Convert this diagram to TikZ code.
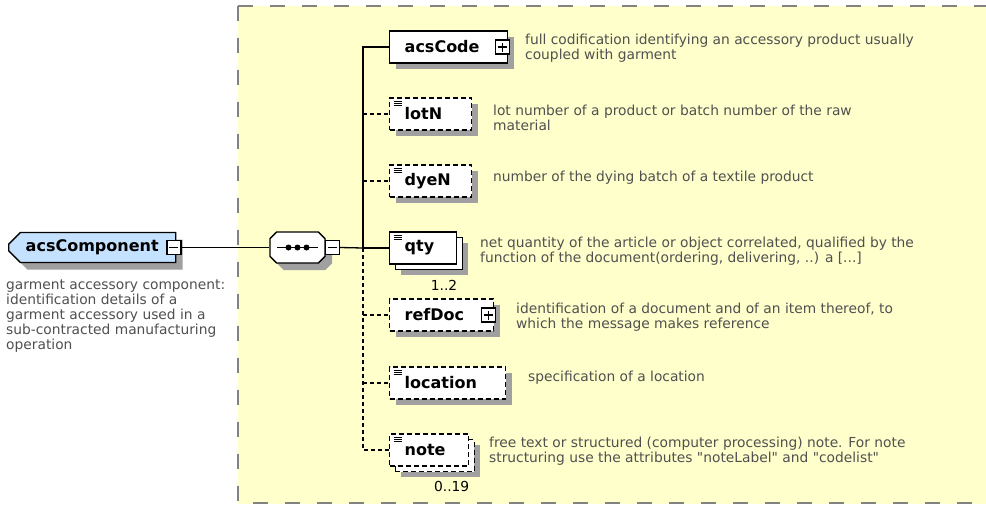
\documentclass[tikz,border=0pt]{standalone}
\usepackage{xcolor}
\usepackage{fontspec}
\setmainfont{DejaVu Sans}
\usetikzlibrary{shapes.misc,shadows,positioning,calc}

\definecolor{paneyellow}{RGB}{255,255,204}
\definecolor{rootblue}{RGB}{196,226,255}
\definecolor{shadegray}{RGB}{160,160,160}
\definecolor{textgray}{RGB}{80,80,80}
\definecolor{framegray}{RGB}{130,130,130}

% straight double quote, bypassing the TeX mapping
\newcommand{\straightdq}{\XeTeXglyph\XeTeXcharglyph"22\relax}

\begin{document}
\begin{tikzpicture}[x=1pt, y=-1pt,
    conn/.style={line width=1.3pt},
    optconn/.style={line width=1.3pt, dash pattern=on 4pt off 3pt},
    castshadow/.style={drop shadow={shadow xshift=#1, shadow yshift=-#1, fill=shadegray, opacity=1}},
    elem/.style={rectangle, draw, fill=white, line width=1.4pt, minimum height=32pt, inner xsep=15pt, inner ysep=2pt, align=left, anchor=west, font=\fontsize{16}{18}\selectfont\bfseries},
    single/.style={castshadow=6pt},
    multi/.style={castshadow=11pt, preaction={draw, fill=white, transform canvas={shift={(5.5pt,-5.5pt)}}}},
    optional/.style={dash pattern=on 5pt off 3pt},
    simple/.style={path picture={
        \foreach \k in {0,1,2}
          \draw[solid, line width=0.8pt] ([xshift=4pt, yshift={-3-2.4*\k}]path picture bounding box.north west) -- ++(8pt,0pt);}},
    pmtoggle/.style={rectangle, draw, fill=white, line width=1.2pt, minimum size=14pt, inner sep=0pt},
    pmexpand/.style={pmtoggle, path picture={
        \draw[line width=1.2pt] ([xshift=-4.5pt]path picture bounding box.center) -- ([xshift=4.5pt]path picture bounding box.center);
        \draw[line width=1.2pt] ([yshift=-4.5pt]path picture bounding box.center) -- ([yshift=4.5pt]path picture bounding box.center);}},
    pmcollapse/.style={pmtoggle, path picture={
        \draw[line width=1.2pt] ([xshift=-4.5pt]path picture bounding box.center) -- ([xshift=4.5pt]path picture bounding box.center);}},
    desc/.style={anchor=north west, inner sep=0pt, align=left, text=textgray, font=\fontsize{13.8}{15}\selectfont},
    card/.style={anchor=north east, inner sep=0pt, font=\fontsize{13.8}{15}\selectfont}
  ]
    \useasboundingbox (0,0) rectangle (986,504);
    \fill[white] (0,0) rectangle (986,504);

    % Content pane
    \fill[paneyellow] (238,6) rectangle (986,504);
    \draw[framegray, line width=2.5pt, dash pattern=on 15pt off 17pt] (238,6) -- (986,6);
    \draw[framegray, line width=2.5pt, dash pattern=on 15pt off 17pt] (238,6) -- (238,503) -- (986,503);

    % Root element
    \node[chamfered rectangle, chamfered rectangle corners={north west, south west}, chamfered rectangle xsep=8pt,
          draw, fill=rootblue, line width=1.4pt, minimum width=167pt, minimum height=30pt, castshadow=7pt,
          font=\fontsize{16}{18}\selectfont\bfseries, anchor=west] (acsComponent) at (8,247.5) {acsComponent};
    \node[pmcollapse] (acsComponentToggle) at ([xshift=-2.5pt]acsComponent.east) {};
    \node[desc] (acsComponentDesc) at (6,280) {garment accessory component:\\identification details of a\\garment accessory used in a\\sub-contracted manufacturing\\operation};

    % Sequence compositor
    \node[chamfered rectangle, chamfered rectangle xsep=7pt, draw, fill=white, line width=1.4pt,
          minimum width=55pt, minimum height=31pt, castshadow=7pt] (seq) at (297.5,247.5) {};
    \draw[line width=1.2pt] ([xshift=8pt]seq.west) -- ([xshift=-8pt]seq.east);
    \foreach \dx in {-9,0,9}
      \fill ([xshift=\dx pt]seq.center) circle (3pt);
    \node[pmcollapse, anchor=west] (seqToggle) at ([xshift=-1pt]seq.east) {};

    % Children
    \node[elem, single, text width=88pt] (acsCode) at (389,47) {acsCode};
    \node[pmexpand] (acsCodeToggle) at ([xshift=-6pt]acsCode.east) {};
    \node[elem, single, simple, optional, text width=52pt] (lotN) at (389,114) {lotN};
    \node[elem, single, simple, optional, text width=52pt] (dyeN) at (389,181) {dyeN};
    \node[elem, multi, simple, text width=37pt] (qty) at (389,248) {qty};
    \node[card] (qtyCard) at ([yshift=-15pt]qty.south east) {1..2};
    \node[elem, single, optional, text width=74pt] (refDoc) at (389,315) {refDoc};
    \node[pmexpand] (refDocToggle) at ([xshift=-6pt]refDoc.east) {};
    \node[elem, single, simple, optional, text width=86pt] (location) at (389,383) {location};
    \node[elem, multi, simple, optional, text width=49pt] (note) at (389,450) {note};
    \node[card] (noteCard) at ([yshift=-14pt]note.south east) {0..19};

    % Connectors
    \coordinate (spineTop) at (363,47);
    \coordinate (spineMid) at (363,248);
    \coordinate (spineBot) at (363,450);
    \draw[conn] (acsComponentToggle.east) -- (seq.west);
    \draw[conn] (seqToggle.east) -- (spineMid);
    \draw[conn] (spineMid) -- (spineTop) -- (acsCode.west);
    \draw[conn] (spineMid) -- (qty.west);
    \draw[optconn] (spineMid) -- (spineBot) -- (note.west);
    \foreach \n in {lotN,dyeN,refDoc,location}
      \draw[optconn] (\n.west -| spineMid) -- (\n.west);

    % Annotations
    \node[desc] (acsCodeDesc) at (525,34) {full codification identifying an accessory product usually\\coupled with garment};
    \node[desc] (lotNDesc) at (493,105) {lot number of a product or batch number of the raw\\material};
    \node[desc] (dyeNDesc) at (493,171) {number of the dying batch of a textile product};
    \node[desc] (qtyDesc) at (480,237) {net quantity of the article or object correlated, qualified by the\\function of the document(ordering, delivering, ..) a [...]};
    \node[desc] (refDocDesc) at (516,303) {identification of a document and of an item thereof, to\\which the message makes reference};
    \node[desc] (locationDesc) at (528,371) {specification of a location};
    \node[desc] (noteDesc) at (489,437) {free text or structured (computer processing) note. For note\\structuring use the attributes \straightdq noteLabel\straightdq{} and \straightdq codelist\straightdq};
\end{tikzpicture}
\end{document}
